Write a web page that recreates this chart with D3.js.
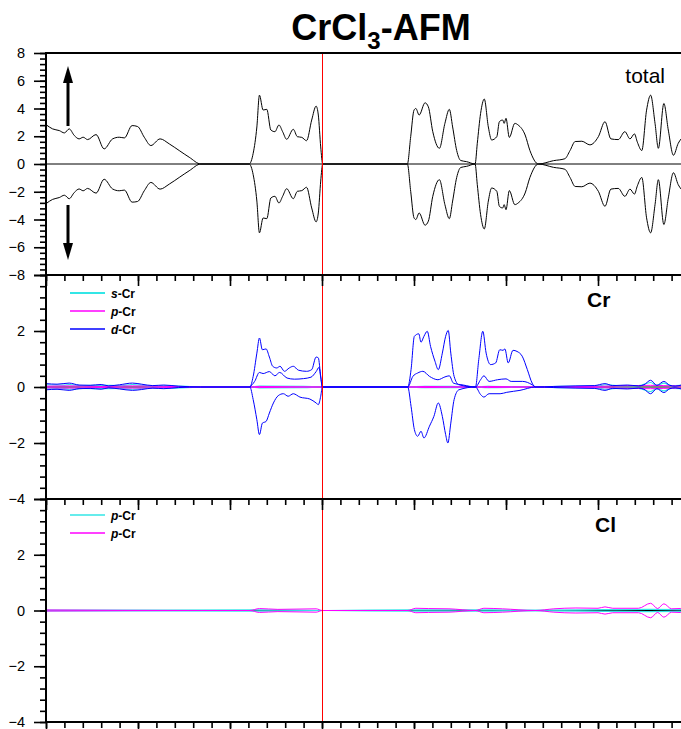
<!DOCTYPE html>
<html>
<head>
<meta charset="utf-8">
<script src="https://cdn.jsdelivr.net/npm/d3@7"></script>
<style>
  html, body { margin: 0; padding: 0; background: #fff; }
  svg { display: block; }
  text { font-family: Arial, "Liberation Sans", sans-serif; }
</style>
</head>
<body>
<svg id="chart" width="681" height="729"></svg>
<script>
// ---- energy axis (eV, Fermi level at 0) ----
const energyDomain = [-7.5, 10];
const energyMajorTicks = [-7.5, -5, -2.5, 0, 2.5, 5, 7.5, 10];
const energyMinorTicks = d3.range(-7.5, 10.01, 0.5);
const fermiLevel = 0;

// ---- DOS tick labels per panel (shared boundary labels belong to the panel above) ----
const totalTicks = [-8, -6, -4, -2, 0, 2, 4, 6, 8];
const crTicks = [-4, -2, 0, 2];
const clTicks = [-4, -2, 0, 2];

// ---- total DOS ----
const totalE = [-7.5, -7.32, -7.14, -7.0, -6.87, -6.73, -6.6, -6.49, -6.37, -6.14, -5.92, -5.69, -5.51, -5.37, -5.16, -5.01, -4.83, -4.65, -4.4, -4.15, -3.88, -3.61, -3.29,
  -1.98, -1.87, -1.77, -1.7, -1.6, -1.5, -1.39, -1.28, -1.17, -1.07, -0.96, -0.78, -0.67, -0.55, -0.42, -0.28, -0.16, -0.1, -0.035, 0.02,
  2.32, 2.41, 2.5, 2.55, 2.64, 2.8, 2.89, 3.01, 3.19, 3.34, 3.46, 3.55, 3.66, 3.77, 3.93, 4.16,
  4.22, 4.31, 4.41, 4.52, 4.61, 4.75, 4.82, 4.91, 4.95, 5.0, 5.09, 5.24, 5.33, 5.52, 5.65, 5.88,
  6.29, 6.6, 6.74, 6.88, 7.06, 7.28, 7.51, 7.69, 7.85, 8.05, 8.23, 8.37, 8.49, 8.57, 8.69, 8.82, 8.93, 9.05, 9.14, 9.29, 9.41, 9.55, 9.68, 9.76, 10.0];
const totalUp = [2.84, 2.53, 2.41, 2.24, 2.53, 2.05, 1.81, 1.93, 1.76, 2.12, 1.09, 1.81, 1.93, 1.88, 2.77, 2.7, 1.93, 1.33, 1.81, 1.45, 0.97, 0.49, 0,
  0, 0.77, 2.67, 4.96, 3.89, 3.94, 2.45, 2.33, 2.81, 2.33, 1.78, 2.5, 1.97, 1.92, 1.68, 3.17, 4.17, 3.53, 1.23, 0,
  0, 1.97, 3.88, 4.0, 3.53, 4.41, 4.12, 2.33, 1.13, 2.93, 3.94, 2.67, 0.97, 0.25, 0.17, 0,
  1.49, 3.65, 4.68, 2.67, 1.73, 1.97, 3.05, 3.17, 2.93, 3.29, 1.92, 2.93, 2.81, 2.09, 0.97, 0,
  0.24, 0.38, 0.97, 1.62, 1.64, 1.38, 1.97, 3.05, 1.81, 1.76, 2.33, 1.81, 2.17, 1.57, 0.97, 3.88, 4.96, 2.93, 1.13, 4.36, 2.45, 0.63, 1.49, 1.81, 2.2];
const totalDn = [-2.86, -2.55, -2.42, -2.25, -2.5, -2.05, -1.8, -1.93, -1.76, -2.1, -1.1, -1.8, -1.93, -1.88, -2.75, -2.7, -1.93, -1.33, -1.81, -1.45, -0.97, -0.49, 0,
  0, -0.77, -2.67, -4.96, -3.89, -3.94, -2.45, -2.33, -2.81, -2.33, -1.78, -2.5, -1.97, -1.92, -1.68, -3.17, -4.17, -3.53, -1.23, 0,
  0, -1.97, -3.88, -4.0, -3.53, -4.41, -4.12, -2.33, -1.13, -2.93, -3.94, -2.67, -0.97, -0.25, -0.17, 0,
  -1.49, -3.65, -4.68, -2.67, -1.73, -1.97, -3.05, -3.17, -2.93, -3.29, -1.92, -2.93, -2.81, -2.09, -0.97, 0,
  -0.24, -0.38, -0.97, -1.62, -1.64, -1.38, -1.97, -3.05, -1.81, -1.76, -2.33, -1.81, -2.17, -1.57, -0.97, -3.88, -4.96, -2.93, -1.13, -4.36, -2.45, -0.63, -1.49, -1.81, -2.2];

// ---- Cr projected DOS: [energy, states] ----
const sCrUp = [[-7.5, 0.08], [-7.0, 0.07], [-6.87, 0.09], [-6.5, 0.05], [-6.0, 0.06], [-5.5, 0.05], [-5.15, 0.09], [-4.7, 0.04], [-4.2, 0.04], [-3.5, 0.01], [-3.3, 0],
  [-1.96, 0], [-1.7, 0.03], [-0.5, 0.02], [0.01, 0], [2.33, 0], [2.8, 0.02], [3.5, 0.02], [4.17, 0], [4.5, 0.02], [5.8, 0],
  [6.5, 0.02], [7.5, 0.04], [7.69, 0.08], [8.0, 0.05], [8.6, 0.05], [8.93, 0.16], [9.1, 0.06], [9.29, 0.14], [9.5, 0.05], [10, 0.07]];
const sCrDn = [[-7.5, -0.07], [-7.0, -0.06], [-6.87, -0.08], [-6.5, -0.05], [-6.0, -0.06], [-5.5, -0.05], [-5.15, -0.08], [-4.7, -0.04], [-4.2, -0.04], [-3.5, -0.01], [-3.3, 0],
  [-1.96, 0], [-1.7, -0.03], [-0.5, -0.02], [0.01, 0], [2.33, 0], [2.8, -0.02], [3.5, -0.02], [4.17, 0], [4.5, -0.02], [5.8, 0],
  [6.5, -0.02], [7.5, -0.04], [7.69, -0.08], [8.0, -0.05], [8.6, -0.05], [8.93, -0.16], [9.1, -0.06], [9.29, -0.14], [9.5, -0.05], [10, -0.07]];
const pCrUp = [[-7.5, 0.03], [-6.87, 0.04], [-6.0, 0.02], [-5.15, 0.04], [-4.2, 0.02], [-3.3, 0], [-1.96, 0], [-1.7, 0.02], [0.01, 0],
  [2.33, 0], [2.8, 0.02], [4.17, 0], [4.5, 0.02], [5.8, 0], [7.69, 0.03], [8.93, 0.06], [9.29, 0.05], [10, 0.03]];
const pCrDn = [[-7.5, -0.03], [-6.87, -0.04], [-6.0, -0.02], [-5.15, -0.04], [-4.2, -0.02], [-3.3, 0], [-1.96, 0], [-1.7, -0.02], [0.01, 0],
  [2.33, 0], [2.8, -0.02], [4.17, 0], [4.5, -0.02], [5.8, 0], [7.69, -0.03], [8.93, -0.06], [9.29, -0.05], [10, -0.03]];
const dCrUp = [[-7.5, 0.12], [-7.2, 0.1], [-6.87, 0.14], [-6.6, 0.07], [-6.3, 0.06], [-6.0, 0.09], [-5.8, 0.04], [-5.5, 0.08], [-5.15, 0.14], [-4.9, 0.1], [-4.6, 0.05], [-4.3, 0.07], [-3.9, 0.03], [-3.3, 0],
  [-1.96, 0], [-1.87, 0.38], [-1.77, 1.21], [-1.7, 1.75], [-1.62, 1.33], [-1.52, 1.36], [-1.43, 1.07], [-1.34, 0.74], [-1.23, 0.68], [-1.14, 0.74], [-1.02, 0.56], [-0.89, 0.68], [-0.78, 0.74], [-0.64, 0.6], [-0.42, 0.56], [-0.28, 0.62], [-0.16, 1.07], [-0.1, 1.04], [-0.035, 0.38], [0.01, 0],
  [2.33, 0], [2.42, 0.62], [2.51, 1.81], [2.63, 1.9], [2.69, 1.6], [2.77, 1.81], [2.86, 1.99], [2.95, 1.45], [3.07, 0.92], [3.16, 0.62], [3.27, 1.21], [3.36, 1.81], [3.43, 2.02], [3.5, 1.21], [3.59, 0.38], [3.72, 0.08], [4.17, 0],
  [4.26, 0.98], [4.37, 1.99], [4.46, 1.21], [4.58, 0.8], [4.72, 0.86], [4.83, 1.33], [4.92, 1.31], [4.97, 1.36], [5.06, 0.86], [5.19, 1.31], [5.3, 1.27], [5.44, 1.1], [5.58, 0.62], [5.71, 0.14], [5.8, 0],
  [6.3, 0.02], [6.9, 0.04], [7.4, 0.05], [7.69, 0.12], [7.9, 0.05], [8.3, 0.07], [8.6, 0.04], [8.75, 0.08], [8.93, 0.24], [9.1, 0.06], [9.29, 0.2], [9.45, 0.06], [9.6, 0.03], [9.8, 0.08], [10, 0.1]];
const dCrDn = [[-7.5, -0.1], [-7.2, -0.08], [-6.87, -0.12], [-6.6, -0.06], [-6.3, -0.05], [-6.0, -0.08], [-5.8, -0.03], [-5.5, -0.07], [-5.15, -0.12], [-4.9, -0.09], [-4.6, -0.04], [-4.3, -0.06], [-3.9, -0.02], [-3.3, 0],
  [-1.96, 0], [-1.87, -0.45], [-1.77, -1.17], [-1.7, -1.7], [-1.62, -1.29], [-1.52, -1.23], [-1.43, -0.93], [-1.32, -0.57], [-1.19, -0.31], [-1.05, -0.24], [-0.92, -0.33], [-0.78, -0.24], [-0.6, -0.36], [-0.33, -0.43], [-0.16, -0.57], [-0.1, -0.63], [-0.035, -0.33], [0.01, 0],
  [2.33, 0], [2.42, -0.69], [2.51, -1.52], [2.6, -1.76], [2.69, -1.58], [2.77, -1.82], [2.92, -1.4], [3.04, -1.05], [3.16, -0.57], [3.27, -1.05], [3.36, -1.7], [3.42, -2.0], [3.5, -1.29], [3.59, -0.45], [3.72, -0.1], [4.17, 0],
  [4.31, -0.27], [4.4, -0.36], [4.54, -0.24], [4.84, -0.24], [5.02, -0.19], [5.38, -0.12], [5.8, 0],
  [6.3, -0.02], [6.9, -0.04], [7.4, -0.05], [7.69, -0.12], [7.9, -0.05], [8.3, -0.07], [8.6, -0.04], [8.75, -0.08], [8.93, -0.24], [9.1, -0.06], [9.29, -0.2], [9.45, -0.06], [9.6, -0.03], [9.8, -0.08], [10, -0.1]];
const dCr2Up = [[-1.96, 0], [-1.83, 0.2], [-1.7, 0.52], [-1.6, 0.48], [-1.43, 0.55], [-1.28, 0.4], [-1.15, 0.52], [-0.95, 0.32], [-0.75, 0.28], [-0.5, 0.3], [-0.3, 0.35], [-0.16, 0.55], [-0.08, 0.7], [-0.03, 0.3], [0.01, 0],
  [2.33, 0], [2.47, 0.38], [2.6, 0.5], [2.74, 0.56], [2.92, 0.38], [3.15, 0.26], [3.34, 0.36], [3.46, 0.4], [3.57, 0.14], [3.84, 0.07], [4.17, 0],
  [4.31, 0.26], [4.4, 0.4], [4.54, 0.2], [4.77, 0.26], [5.0, 0.29], [5.14, 0.2], [5.45, 0.2], [5.71, 0.08], [5.8, 0]];

// ---- Cl projected DOS: [energy, states] ----
const pClAUp = [[-7.5, 0.01], [-1.7, 0.02], [0, 0], [2.5, 0.02], [4.4, 0.02], [6, 0.01], [7.7, 0.03], [8.9, 0.04], [10, 0.03]];
const pClADn = [[-7.5, -0.01], [-1.7, -0.02], [0, 0], [2.5, -0.02], [4.4, -0.02], [6, -0.01], [7.7, -0.03], [8.9, -0.04], [10, -0.03]];
const pClBUp = [[-7.5, 0.02], [-3.3, 0], [-1.96, 0], [-1.7, 0.07], [-1.2, 0.04], [-0.16, 0.06], [0.01, 0], [2.33, 0], [2.55, 0.08], [2.9, 0.07], [3.45, 0.06], [4.17, 0],
  [4.4, 0.08], [4.9, 0.06], [5.8, 0], [6.3, 0.06], [6.9, 0.09], [7.5, 0.08], [7.69, 0.13], [7.9, 0.08], [8.6, 0.08], [8.93, 0.26], [9.12, 0.07], [9.29, 0.24], [9.5, 0.06], [10, 0.1]];
const pClBDn = [[-7.5, -0.02], [-3.3, 0], [-1.96, 0], [-1.7, -0.07], [-1.2, -0.04], [-0.16, -0.06], [0.01, 0], [2.33, 0], [2.55, -0.08], [2.9, -0.07], [3.45, -0.06], [4.17, 0],
  [4.4, -0.08], [4.9, -0.06], [5.8, 0], [6.3, -0.06], [6.9, -0.09], [7.5, -0.08], [7.69, -0.13], [7.9, -0.08], [8.6, -0.08], [8.93, -0.26], [9.12, -0.07], [9.29, -0.24], [9.5, -0.06], [10, -0.1]];

// ---- colours ----
const colS = "#33e6e6", colP = "#ff00ff", colD = "#0000ff";

const svg = d3.select("#chart");
const x = d3.scaleLinear().domain(energyDomain).range([46, 690]);

const panels = [
  { top: 53, bottom: 275, domain: [-8, 8], ticks: totalTicks, step: 2 },
  { top: 275, bottom: 499, domain: [-4, 4], ticks: crTicks, step: 2 },
  { top: 499, bottom: 722, domain: [-4, 4], ticks: clTicks, step: 2 }
];
panels.forEach(p => {
  p.y = d3.scaleLinear().domain(p.domain).range([p.bottom, p.top]);
  p.minor = d3.range(p.domain[0], p.domain[1] + 1e-9, p.step / 5);
  p.majorMarks = d3.range(p.domain[0], p.domain[1] + 1e-9, p.step);
});

svg.append("defs").append("clipPath").attr("id", "plotClip")
  .append("rect").attr("x", 46).attr("y", 53).attr("width", 644).attr("height", 669);

const plot = svg.append("g").attr("clip-path", "url(#plotClip)");

function lineFor(p) {
  return d3.line().x(d => x(d[0])).y(d => p.y(d[1])).curve(d3.curveMonotoneX);
}
function drawSeries(p, data, color, width) {
  plot.append("path").datum(data)
    .attr("fill", "none").attr("stroke", color).attr("stroke-width", width)
    .attr("stroke-linejoin", "round").attr("d", lineFor(p));
}

// zero lines
panels.forEach(p => {
  plot.append("line").attr("x1", 46).attr("x2", 690)
    .attr("y1", p.y(0)).attr("y2", p.y(0))
    .attr("stroke", "#000").attr("stroke-width", 1);
});

// panel 1: total DOS
const P1 = panels[0];
drawSeries(P1, totalE.map((e, i) => [e, totalUp[i]]), "#000", 1);
drawSeries(P1, totalE.map((e, i) => [e, totalDn[i]]), "#000", 1);

// panel 2: Cr s, p, d
const P2 = panels[1];
drawSeries(P2, sCrUp, colS, 1.2);
drawSeries(P2, sCrDn, colS, 1.2);
drawSeries(P2, pCrUp, colP, 1);
drawSeries(P2, pCrDn, colP, 1);
drawSeries(P2, dCrUp, colD, 1);
drawSeries(P2, dCrDn, colD, 1);
drawSeries(P2, dCr2Up, colD, 1);

// panel 3: Cl p
const P3 = panels[2];
drawSeries(P3, pClAUp, colS, 1.2);
drawSeries(P3, pClADn, colS, 1.2);
drawSeries(P3, pClBUp, colP, 1);
drawSeries(P3, pClBDn, colP, 1);

// Fermi level
svg.append("line")
  .attr("x1", x(fermiLevel) + 0.5).attr("x2", x(fermiLevel) + 0.5)
  .attr("y1", 53).attr("y2", 722)
  .attr("stroke", "#ff0000").attr("stroke-width", 1);

// axes
panels.forEach(p => {
  const gMinor = svg.append("g").attr("transform", "translate(46,0)")
    .call(d3.axisLeft(p.y).tickValues(p.minor).tickSize(6).tickFormat(""));
  const gMajor = svg.append("g").attr("transform", "translate(46,0)")
    .call(d3.axisLeft(p.y).tickValues(p.majorMarks).tickSize(12).tickFormat(""));
  const gLabels = svg.append("g").attr("transform", "translate(46,0)")
    .call(d3.axisLeft(p.y).tickValues(p.ticks).tickSize(0).tickPadding(21).tickFormat(d3.format("d")));
  [gMinor, gMajor, gLabels].forEach(g => {
    g.select(".domain").remove();
    g.selectAll("line").attr("stroke", "#000").attr("stroke-width", 1.6);
  });
  gLabels.selectAll("text").attr("font-size", 14.5).attr("fill", "#000")
    .attr("font-family", 'Arial, "Liberation Sans", sans-serif');

  const bMinor = svg.append("g").attr("transform", `translate(0,${p.bottom})`)
    .call(d3.axisBottom(x).tickValues(energyMinorTicks).tickSize(6).tickFormat(""));
  const bMajor = svg.append("g").attr("transform", `translate(0,${p.bottom})`)
    .call(d3.axisBottom(x).tickValues(energyMajorTicks).tickSize(11).tickFormat(""));
  [bMinor, bMajor].forEach(g => {
    g.select(".domain").remove();
    g.selectAll("line").attr("stroke", "#000").attr("stroke-width", 1.6);
  });
});

// frame lines
[53, 275, 499, 722].forEach(yy => {
  svg.append("line").attr("x1", 45).attr("x2", 690).attr("y1", yy).attr("y2", yy)
    .attr("stroke", "#000").attr("stroke-width", 2);
});
svg.append("line").attr("x1", 46).attr("x2", 46).attr("y1", 52).attr("y2", 723)
  .attr("stroke", "#000").attr("stroke-width", 2);

// spin arrows
function arrow(xp, yTail, yTip) {
  const dir = Math.sign(yTip - yTail);
  const headLen = 17, headHalf = 5;
  svg.append("line").attr("x1", xp).attr("x2", xp)
    .attr("y1", yTail).attr("y2", yTip - dir * headLen)
    .attr("stroke", "#000").attr("stroke-width", 3);
  svg.append("path")
    .attr("d", `M${xp},${yTip} L${xp - headHalf},${yTip - dir * headLen} L${xp + headHalf},${yTip - dir * headLen} Z`)
    .attr("fill", "#000");
}
arrow(68, 126, 66);
arrow(68, 205, 260);

// title
const title = svg.append("text").attr("x", 381).attr("y", 40)
  .attr("text-anchor", "middle").attr("font-size", 36).attr("font-weight", "bold").attr("fill", "#000");
title.append("tspan").text("CrCl");
title.append("tspan").attr("font-size", 24).attr("dy", 9).text("3");
title.append("tspan").attr("dy", -9).text("-AFM");

// panel labels
svg.append("text").attr("x", 665).attr("y", 83).attr("text-anchor", "end")
  .attr("font-size", 21).attr("fill", "#000").text("total");
svg.append("text").attr("x", 587).attr("y", 307)
  .attr("font-size", 21).attr("font-weight", "bold").attr("fill", "#000").text("Cr");
svg.append("text").attr("x", 595).attr("y", 532)
  .attr("font-size", 21).attr("font-weight", "bold").attr("fill", "#000").text("Cl");

// legends
function legend(items, x0, y0, dy) {
  items.forEach((it, i) => {
    const yy = y0 + i * dy;
    svg.append("line").attr("x1", x0).attr("x2", x0 + 35).attr("y1", yy).attr("y2", yy)
      .attr("stroke", it.color).attr("stroke-width", it.w);
    const t = svg.append("text").attr("x", x0 + 41).attr("y", yy + 4.5)
      .attr("font-size", 12).attr("font-weight", "bold").attr("fill", "#000");
    t.append("tspan").attr("font-style", "italic").text(it.orb);
    t.append("tspan").text("-" + it.atom);
  });
}
legend([
  { orb: "s", atom: "Cr", color: colS, w: 2.2 },
  { orb: "p", atom: "Cr", color: colP, w: 1.5 },
  { orb: "d", atom: "Cr", color: colD, w: 1.5 }
], 70, 293, 18);
legend([
  { orb: "p", atom: "Cr", color: colS, w: 1.5 },
  { orb: "p", atom: "Cr", color: colP, w: 1.5 }
], 70, 515, 18);
</script>
</body>
</html>
